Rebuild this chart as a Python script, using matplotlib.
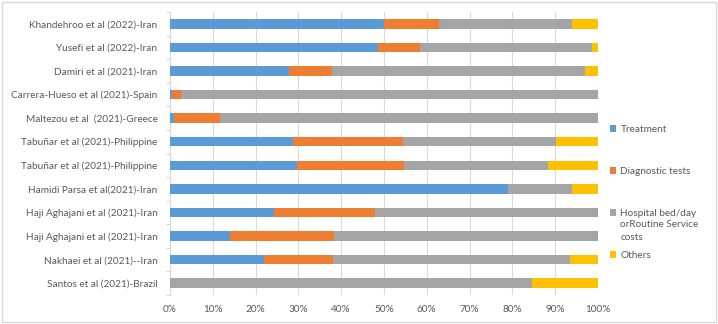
import matplotlib
matplotlib.use("Agg")
import matplotlib.pyplot as plt
import numpy as np
from matplotlib.patches import Rectangle

plt.rcParams['font.family'] = ['Lato', 'DejaVu Sans']

studies = [
    "Khandehroo et al (2022)-Iran",
    "Yusefi et al (2022)-Iran",
    "Damiri et al (2021)-Iran",
    "Carrera-Hueso et al (2021)-Spain",
    "Maltezou et al  (2021)-Greece",
    "Tabuñar et al (2021)-Philippine",
    "Tabuñar et al (2021)-Philippine",
    "Hamidi Parsa et al(2021)-Iran",
    "Haji Aghajani et al (2021)-Iran",
    "Haji Aghajani et al (2021)-Iran",
    "Nakhaei et al (2021)--Iran",
    "Santos et al (2021)-Brazil",
]
treatment  = [50.0, 48.7, 27.8, 0.4, 1.0, 28.7, 29.7, 78.9, 24.3, 14.0, 22.0, 0.0]
diagnostic = [12.9,  9.6, 10.1, 2.2, 10.7, 25.7, 24.9, 0.0, 23.6, 24.4, 16.2, 0.0]
hospital   = [31.0, 40.4, 59.1, 97.4, 88.3, 35.9, 33.8, 15.0, 52.1, 61.6, 55.3, 84.6]
others     = [6.1,  1.3,  3.0, 0.0, 0.0, 9.7, 11.6, 6.1, 0.0, 0.0, 6.5, 15.4]

series_names = ["Treatment", "Diagnostic tests", "Hospital bed/day", "Others"]
colors = ["#5B9BD5", "#ED7D31", "#A5A5A5", "#FFC000"]
xticks = [0, 10, 20, 30, 40, 50, 60, 70, 80, 90, 100]

txt = "#595959"
grid = "#D9D9D9"
fs = 7.2

fig = plt.figure(figsize=(7.18, 3.24), dpi=100)
fig.patches.append(Rectangle((0.003, 0.005), 0.994, 0.99, transform=fig.transFigure,
                             fill=False, edgecolor=grid, linewidth=1.0))
ax = fig.add_axes([170/718, 29/324, 428/718, 283/324])

y = np.arange(len(studies))
left = np.zeros(len(studies))
handles = []
for vals, col, name in zip([treatment, diagnostic, hospital, others], colors, series_names):
    v = np.array(vals)
    h = ax.barh(y, v, left=left, color=col, height=0.4, label=name, zorder=3)
    handles.append(h)
    left = left + v

ax.set_xlim(0, 100)
ax.set_ylim(len(studies) - 0.5, -0.5)
ax.set_xticks(xticks)
ax.set_xticklabels([f"{t}%" for t in xticks], color=txt, fontsize=fs)
ax.set_yticks(y)
ax.set_yticklabels(studies, color=txt, fontsize=fs)
ax.set_yticks(np.arange(-0.5, len(studies), 1), minor=True)
ax.tick_params(axis='y', which='major', length=0, pad=9)
ax.tick_params(axis='y', which='minor', length=3, color=grid, width=0.8)
ax.tick_params(axis='x', length=0, pad=7)
ax.xaxis.grid(True, color=grid, linewidth=0.8, zorder=0)
ax.set_axisbelow(True)
for s in ['top', 'right', 'bottom']:
    ax.spines[s].set_visible(False)
ax.spines['left'].set_color(grid)
ax.spines['left'].set_linewidth(0.8)

leg = fig.legend(handles, series_names, loc='upper left', bbox_to_anchor=(610/718, 1 - 125/324),
                 frameon=False, fontsize=fs, labelcolor=txt, handlelength=0.6, handleheight=0.6,
                 handletextpad=0.45, labelspacing=3.3, borderaxespad=0, borderpad=0)
fig.canvas.draw()
t = leg.get_texts()[2]
bb = t.get_window_extent()
inv = fig.transFigure.inverted()
x0, y0 = inv.transform((bb.x0, bb.y0))
fig.text(x0, y0 - 2/324, "orRoutine Service\ncosts", ha='left', va='top', fontsize=fs,
         color=txt, linespacing=1.6)

fig.savefig("out.png", dpi=100)
